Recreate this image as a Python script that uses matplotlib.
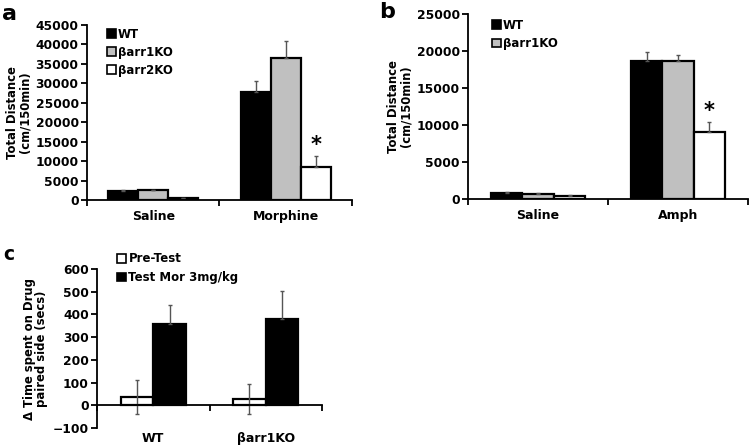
import numpy as np
import matplotlib.pyplot as plt
from matplotlib.patches import Patch

plt.rcParams['font.family'] = ['DejaVu Sans']
plt.rcParams['font.weight'] = 'bold'
plt.rcParams['axes.labelweight'] = 'bold'

# panel a: locomotion, morphine
a_groups = ['Saline', 'Morphine']
a_series = ['WT', 'βarr1KO', 'βarr2KO']
a_wt = [2200, 27700]
a_wt_err = [250, 3000]
a_b1 = [2500, 36400]
a_b1_err = [150, 4500]
a_b2 = [500, 8550]
a_b2_err = [80, 2700]
a_ticks = [0, 5000, 10000, 15000, 20000, 25000, 30000, 35000, 40000, 45000]

# panel b: locomotion, amphetamine
b_groups = ['Saline', 'Amph']
b_series = ['WT', 'βarr1KO']
b_wt = [800, 18600]
b_wt_err = [100, 1200]
b_b1 = [700, 18700]
b_b1_err = [120, 700]
b_b2 = [420, 9000]
b_b2_err = [120, 1400]
b_ticks = [0, 5000, 10000, 15000, 20000, 25000]

# panel c: place preference
c_groups = ['WT', 'βarr1KO']
c_series = ['Pre-Test', 'Test Mor 3mg/kg']
c_pre = [38, 27]
c_pre_err = [75, 65]
c_test = [358, 382]
c_test_err = [85, 121]
c_ticks = [-100, 0, 100, 200, 300, 400, 500, 600]

colors = ['black', '#c0c0c0', 'white']
ekw = dict(ecolor='#555555', elinewidth=1.0, capsize=1.5, capthick=1.0)
leg_kw = dict(loc='upper left', frameon=False, fontsize=8.5, handlelength=0.75,
              handleheight=0.75, handletextpad=0.2, borderaxespad=0, borderpad=0)

fig = plt.figure(figsize=(7.51, 4.45), dpi=100)


def style_axis(ax):
    ax.spines['top'].set_visible(False)
    ax.spines['right'].set_visible(False)
    for s in ['left', 'bottom']:
        ax.spines[s].set_linewidth(1.3)
    ax.set_xlim(-0.5, 1.5)
    ax.set_xticks([-0.5, 0.5, 1.5], minor=True)
    ax.tick_params(axis='x', which='minor', length=4, width=1.3, direction='out')
    ax.tick_params(axis='x', which='major', length=0, labelsize=9, pad=7)
    ax.tick_params(axis='y', length=4, width=1.3, labelsize=8.8, pad=2)


def bold_ticks(ax):
    for lbl in ax.get_xticklabels() + ax.get_yticklabels():
        lbl.set_fontweight('bold')


def bars3(ax, groups, vals, errs, w):
    x = np.arange(len(groups))
    for i, (v, e) in enumerate(zip(vals, errs)):
        ax.bar(x + (i - 1) * w, v, w, color=colors[i], edgecolor='black', linewidth=1.6,
               yerr=[np.zeros(len(e)), e], error_kw=ekw, zorder=2)
    ax.set_xticks(x)
    ax.set_xticklabels(groups)


# ---- a
ax1 = fig.add_axes([0.1158, 0.5506, 0.3529, 0.3933])
style_axis(ax1)
bars3(ax1, a_groups, [a_wt, a_b1, a_b2], [a_wt_err, a_b1_err, a_b2_err], 0.227)
ax1.set_ylim(0, 45000)
ax1.set_yticks(a_ticks)
bold_ticks(ax1)
ax1.set_ylabel('Total Distance\n(cm/150min)', fontsize=8.4, linespacing=0.95, labelpad=3)
ax1.text(1 + 0.227, a_b2[1] + a_b2_err[1] + 200, '*', ha='center', va='bottom', fontsize=15)
h = [Patch(facecolor=c, edgecolor='black', linewidth=1.2) for c in colors]
ax1.legend(h, a_series, bbox_to_anchor=(0.075, 0.985), labelspacing=0.42, **leg_kw)
fig.text(2 / 751, 1 - 20 / 445, 'a', fontsize=16, va='baseline')

# ---- b
ax2 = fig.add_axes([0.6232, 0.5528, 0.3728, 0.4157])
style_axis(ax2)
bars3(ax2, b_groups, [b_wt, b_b1, b_b2], [b_wt_err, b_b1_err, b_b2_err], 0.225)
ax2.set_ylim(0, 25000)
ax2.set_yticks(b_ticks)
bold_ticks(ax2)
ax2.set_ylabel('Total Distance\n(cm/150min)', fontsize=8.4, linespacing=0.95, labelpad=3)
ax2.text(1 + 0.225, b_b2[1] + b_b2_err[1] + 100, '*', ha='center', va='bottom', fontsize=15)
ax2.legend(h[:2], b_series, bbox_to_anchor=(0.085, 0.975), labelspacing=0.45, **leg_kw)
fig.text(379 / 751, 1 - 18 / 445, 'b', fontsize=16, va='baseline')

# ---- c
ax3 = fig.add_axes([0.1292, 0.0382, 0.2996, 0.3573])
style_axis(ax3)
ax3.spines['bottom'].set_position(('data', 0))
x = np.arange(len(c_groups))
w = 0.29
ax3.bar(x - w / 2, c_pre, w, color='white', edgecolor='black', linewidth=1.6,
        yerr=c_pre_err, error_kw=ekw)
ax3.bar(x + w / 2, c_test, w, color='black', edgecolor='black', linewidth=1.6,
        yerr=[np.zeros(2), c_test_err], error_kw=ekw)
ax3.set_ylim(-100, 600)
ax3.set_yticks(c_ticks)
ax3.set_xticks(x)
ax3.set_xticklabels([])
bold_ticks(ax3)
for i, g in enumerate(c_groups):
    ax3.text(i, -0.025, g, transform=ax3.get_xaxis_transform(), ha='center', va='top', fontsize=9)
ax3.set_ylabel('Δ Time spent on Drug\npaired side (secs)', fontsize=8.4, linespacing=0.95, labelpad=3)
hc = [Patch(facecolor='white', edgecolor='black', linewidth=1.2),
      Patch(facecolor='black', edgecolor='black', linewidth=1.2)]
ax3.legend(hc, c_series, bbox_to_anchor=(0.09, 1.105), labelspacing=0.5, **leg_kw)
fig.text(3 / 751, 1 - 260 / 445, 'c', fontsize=13.5, va='baseline')

fig.savefig('out.png', dpi=100)
